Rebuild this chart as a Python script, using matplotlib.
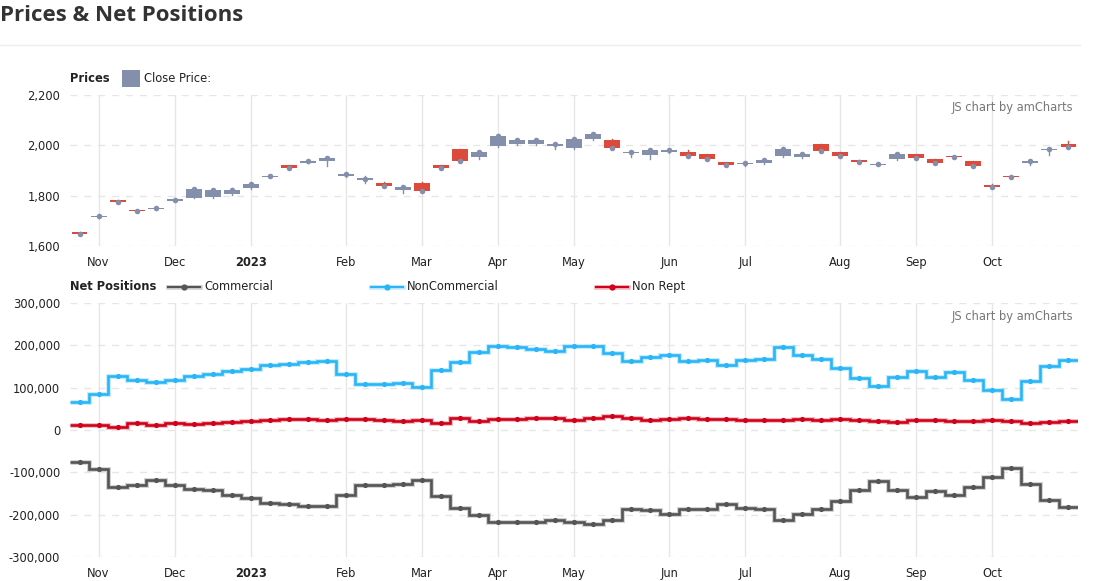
import numpy as np
import pandas as pd
import matplotlib
matplotlib.use("Agg")
import matplotlib.pyplot as plt
from matplotlib.patches import Rectangle

# weekly buckets (Mondays)
dates = pd.date_range("2022-10-31", periods=53, freq="W-MON")

open_p = [1653, 1715, 1780, 1742, 1746, 1780, 1791, 1793, 1805, 1829,
          1874, 1920, 1929, 1937, 1877, 1864, 1852, 1821, 1852, 1920,
          1984, 1952, 1996, 2004, 2004, 1996, 1988, 2024, 2020, 1970,
          1960, 1972, 1972, 1964, 1932, 1926, 1928, 1956, 1952, 2004,
          1972, 1940, 1921, 1944, 1964, 1944, 1956, 1936, 1844, 1878,
          1928, 1981, 2004]
close_p = [1649, 1718, 1776, 1739, 1750, 1784, 1826, 1824, 1824, 1848,
           1877, 1909, 1936, 1949, 1885, 1866, 1840, 1836, 1817, 1909,
           1937, 1972, 2036, 2020, 2020, 2004, 2024, 2044, 1991, 1972,
           1980, 1980, 1958, 1946, 1921, 1929, 1940, 1984, 1964, 1976,
           1956, 1932, 1924, 1964, 1948, 1928, 1953, 1916, 1836, 1875,
           1936, 1984, 1993]
high_p = [1655, 1719, 1781, 1743, 1752, 1787, 1830, 1828, 1832, 1852,
          1878, 1921, 1939, 1951, 1886, 1877, 1853, 1837, 1853, 1921,
          1985, 1976, 2044, 2023, 2024, 2009, 2028, 2048, 2025, 1977,
          1981, 1983, 1983, 1965, 1933, 1930, 1941, 1985, 1966, 2005,
          1973, 1941, 1925, 1968, 1965, 1945, 1957, 1937, 1845, 1879,
          1937, 1989, 2017]
low_p = [1647, 1713, 1773, 1738, 1745, 1779, 1790, 1789, 1804, 1828,
         1873, 1907, 1928, 1916, 1876, 1851, 1839, 1811, 1816, 1904,
         1936, 1945, 1993, 2003, 2003, 1985, 1987, 2023, 1990, 1953,
         1945, 1971, 1953, 1941, 1920, 1918, 1927, 1955, 1951, 1975,
         1955, 1931, 1920, 1940, 1947, 1927, 1952, 1915, 1835, 1874,
         1920, 1961, 1992]

commercial = [-75, -92, -135, -130, -117, -130, -139, -142, -154, -161,
              -173, -175, -180, -180, -154, -130, -130, -127, -117, -156,
              -185, -201, -218, -218, -218, -213, -218, -222, -213, -187,
              -189, -199, -187, -187, -175, -185, -187, -212, -199, -187,
              -168, -142, -120, -142, -158, -144, -154, -135, -110, -89,
              -127, -165, -182]
noncommercial = [66, 85, 128, 118, 113, 118, 128, 132, 139, 145,
                 154, 156, 161, 163, 132, 109, 109, 111, 101, 142,
                 161, 185, 199, 196, 192, 187, 199, 199, 182, 163,
                 173, 177, 163, 166, 154, 166, 168, 196, 177, 168,
                 147, 123, 104, 125, 139, 125, 137, 118, 94, 73,
                 116, 151, 166]
nonrept = [11, 11, 8, 16, 11, 16, 14, 16, 18, 21,
           23, 25, 25, 23, 25, 25, 23, 21, 23, 16,
           28, 21, 25, 25, 28, 28, 23, 28, 33, 28,
           23, 25, 28, 25, 25, 23, 23, 23, 25, 23,
           25, 23, 21, 18, 23, 23, 21, 21, 23, 21,
           16, 18, 21]

commercial = np.array(commercial) * 1000
noncommercial = np.array(noncommercial) * 1000
nonrept = np.array(nonrept) * 1000

UP = "#8490ab"
DOWN = "#dd4a3b"
GRID = "#e6e6e6"
TXT = "#222222"

x = np.arange(len(dates))
month_idx = [i for i in range(1, len(dates)) if dates[i].month != dates[i - 1].month]
month_lab = [("2023" if dates[i].month == 1 else dates[i].strftime("%b")) for i in month_idx]

plt.rcParams["font.family"] = ["DejaVu Sans"]
fig = plt.figure(figsize=(10.94, 5.81), dpi=100)

fig.text(0.0, 0.974, "Prices & Net Positions", fontsize=16, fontweight="bold",
         family="Open Sans", color="#333333", va="center", ha="left")
fig.add_artist(plt.Line2D([0.0, 0.987], [0.923, 0.923], color="#eeeeee", lw=1))

L, W = 70 / 1094, 1008 / 1094
ax1 = fig.add_axes([L, 1 - 246 / 581, W, 151 / 581])
ax2 = fig.add_axes([L, 1 - 557 / 581, W, 254 / 581])


def style(ax, yt, ylab):
    ax.set_xlim(-0.5, len(dates) - 0.5)
    for s in ax.spines.values():
        s.set_visible(False)
    ax.set_yticks(yt)
    ax.set_yticklabels(ylab, fontsize=8.3, color=TXT)
    ax.set_xticks(month_idx)
    ax.set_xticklabels(month_lab, fontsize=8.3, color=TXT)
    for t, lab in zip(ax.get_xticklabels(), month_lab):
        if lab == "2023":
            t.set_fontweight("bold")
    ax.tick_params(length=0, pad=7)
    for v in yt:
        ax.axhline(v, color=GRID, lw=1, ls=(0, (5, 5)), zorder=0)
    for m in month_idx:
        ax.axvline(m, color=GRID, lw=1, zorder=0)
    ax.text(0.995, 0.92 if ax is ax1 else 0.948, "JS chart by amCharts", transform=ax.transAxes,
            ha="right", va="center", fontsize=8.3, color="#777777")


# prices
ax1.set_ylim(1600, 2200)
style(ax1, [1600, 1800, 2000, 2200], ["1,600", "1,800", "2,000", "2,200"])
bw = 0.84
for i in x:
    o, c, h, lo = open_p[i], close_p[i], high_p[i], low_p[i]
    col = UP if c >= o else DOWN
    ax1.plot([i, i], [lo, h], color=col, lw=1, zorder=2)
    bot, top = min(o, c), max(o, c)
    ax1.add_patch(Rectangle((i - bw / 2, bot), bw, max(top - bot, 5), color=col, lw=0, zorder=3))
ax1.scatter(x, close_p, s=16, color=UP, zorder=4, lw=0)

# net positions
ax2.set_ylim(-300000, 300000)
style(ax2, [-300000, -200000, -100000, 0, 100000, 200000, 300000],
      ["-300,000", "-200,000", "-100,000", "0", "100,000", "200,000", "300,000"])
edges = np.arange(len(dates) + 1) - 0.5
for vals, col in [(commercial, "#555555"), (noncommercial, "#29b6f6"), (nonrept, "#d0021b")]:
    ax2.stairs(vals, edges, baseline=None, color=col, lw=3.6, alpha=0.25, zorder=2)
    ax2.stairs(vals, edges, baseline=None, color=col, lw=1.9, zorder=3)
    ax2.scatter(x, vals, s=14, color=col, zorder=4, lw=0)

# legends
fig.text(70 / 1094, 1 - 79 / 581, "Prices", fontsize=8.3, fontweight="bold", color=TXT, va="center")
fig.add_artist(Rectangle((122 / 1094, 1 - 87 / 581), 18 / 1094, 17 / 581, color=UP, lw=0))
fig.text(144 / 1094, 1 - 79 / 581, "Close Price:", fontsize=8.3, color=TXT, va="center")

fig.text(70 / 1094, 1 - 287 / 581, "Net Positions", fontsize=8.3, fontweight="bold", color=TXT, va="center")
for xs, name, col in [(168, "Commercial", "#555555"), (371, "NonCommercial", "#29b6f6"),
                      (596, "Non Rept", "#d0021b")]:
    yy = 1 - 287 / 581
    fig.add_artist(plt.Line2D([xs / 1094, (xs + 32) / 1094], [yy, yy], color=col, lw=3.4, alpha=0.25))
    fig.add_artist(plt.Line2D([xs / 1094, (xs + 32) / 1094], [yy, yy], color=col, lw=1.6))
    fig.add_artist(plt.Line2D([(xs + 16) / 1094], [yy], marker="o", ms=3.5, color=col))
    fig.text((xs + 36) / 1094, yy, name, fontsize=8.3, color=TXT, va="center")

fig.savefig("out.png", dpi=100)
